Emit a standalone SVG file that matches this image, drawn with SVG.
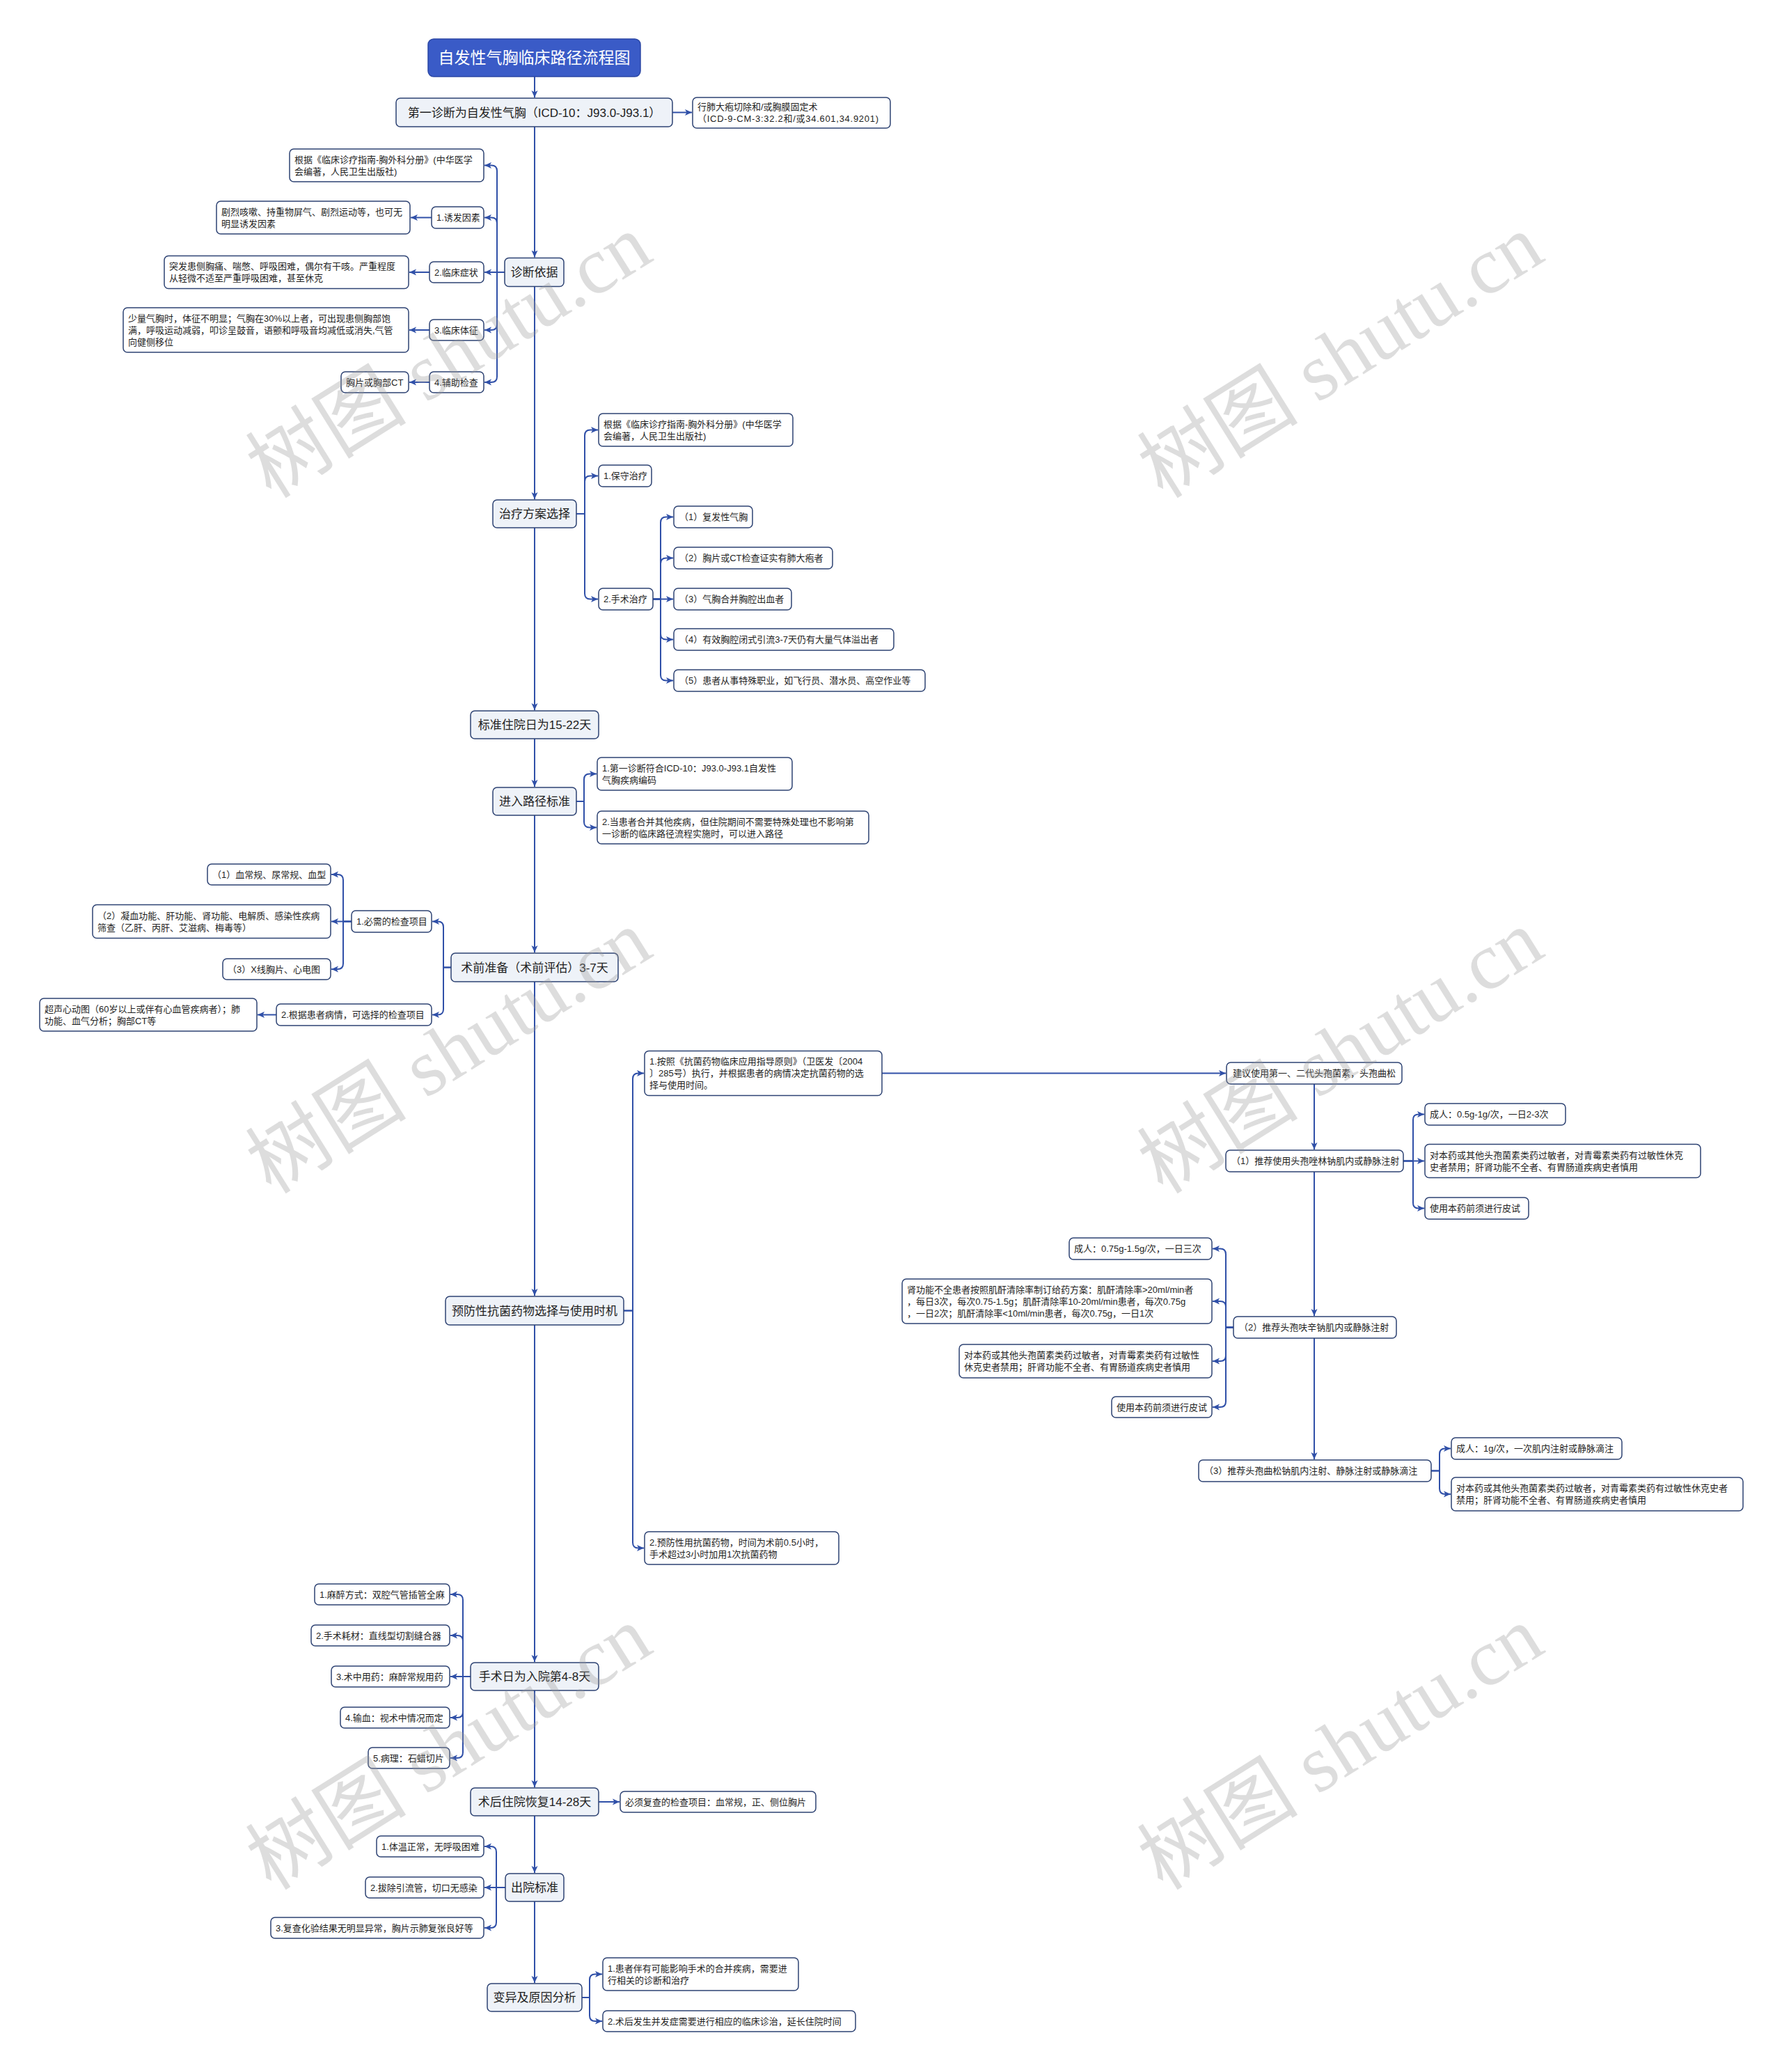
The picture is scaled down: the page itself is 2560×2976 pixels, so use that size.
<svg xmlns="http://www.w3.org/2000/svg" width="2560" height="2976" viewBox="0 0 2560 2976">
<defs>
<style>
.mn{fill:#eef2f8;stroke:#2e4373;stroke-width:1.5}
.cn{fill:#ffffff;stroke:#2e4373;stroke-width:1.5}
.tt{fill:#3a5bc7;stroke:#2b47a5;stroke-width:1.5}
text{font-family:"Liberation Sans","Noto Sans CJK SC",sans-serif;fill:#1e1e1e}
.tw{font-size:23px;fill:#ffffff;text-anchor:middle}
.ml{font-size:17px;text-anchor:middle}
.cl{font-size:13px}
.ln{fill:none;stroke:#3050a8;stroke-width:2;marker-end:url(#ah)}
.wm{font-family:"Liberation Serif","Noto Sans CJK SC",serif;font-size:116px;fill:#9a9a9a;opacity:0.33;text-anchor:middle;dominant-baseline:central}
</style>
<marker id="ah" markerUnits="userSpaceOnUse" markerWidth="10" markerHeight="10" viewBox="0 0 10 10" refX="10" refY="5" orient="auto">
<path d="M0,0.5 L10,5 L0,9.5 L2.5,5 z" fill="#3050a8"/>
</marker>
</defs>
<rect width="2560" height="2976" fill="#ffffff"/>

<g id="connectors">
<path class="ln" d="M768 110 V140"/>
<path class="ln" d="M966 161.5 H994"/>
<path class="ln" d="M768 182 V369.5"/>
<path class="ln" d="M768 411.5 V717"/>
<path class="ln" d="M768 758 V1020"/>
<path class="ln" d="M768 1061 V1130"/>
<path class="ln" d="M768 1171 V1368"/>
<path class="ln" d="M768 1410 V1861"/>
<path class="ln" d="M768 1903 V2387"/>
<path class="ln" d="M768 2428 V2567"/>
<path class="ln" d="M768 2608 V2690"/>
<path class="ln" d="M768 2731 V2848"/>

<path class="ln" d="M725 391 H714 V245.5 Q714 237.5 706 237.5 H696"/>
<path class="ln" d="M725 391 H714 V320.5 Q714 312.5 706 312.5 H696"/>
<path class="ln" d="M725 391 H696"/>
<path class="ln" d="M725 391 H714 V466 Q714 474 706 474 H696"/>
<path class="ln" d="M725 391 H714 V541 Q714 549 706 549 H696"/>
<path class="ln" d="M620 312.5 H590"/>
<path class="ln" d="M617 391 H588"/>
<path class="ln" d="M617 474 H588"/>
<path class="ln" d="M617 549 H588"/>

<path class="ln" d="M828 738 H840 V625.5 Q840 617.5 848 617.5 H859"/>
<path class="ln" d="M828 738 H840 V691.5 Q840 683.5 848 683.5 H859"/>
<path class="ln" d="M828 738 H840 V852.5 Q840 860.5 848 860.5 H859"/>
<path class="ln" d="M938 860.5 H949 V750.5 Q949 742.5 957 742.5 H967"/>
<path class="ln" d="M938 860.5 H949 V809.5 Q949 801.5 957 801.5 H967"/>
<path class="ln" d="M938 860.5 H967"/>
<path class="ln" d="M938 860.5 H949 V910.5 Q949 918.5 957 918.5 H967"/>
<path class="ln" d="M938 860.5 H949 V969.5 Q949 977.5 957 977.5 H967"/>

<path class="ln" d="M828 1151 H839 V1119.5 Q839 1111.5 847 1111.5 H857"/>
<path class="ln" d="M828 1151 H839 V1180.5 Q839 1188.5 847 1188.5 H857"/>

<path class="ln" d="M648 1389.5 H637 V1331.5 Q637 1323.5 629 1323.5 H621"/>
<path class="ln" d="M648 1389.5 H637 V1449.5 Q637 1457.5 629 1457.5 H621"/>
<path class="ln" d="M505 1323.5 H493 V1264 Q493 1256 485 1256 H476"/>
<path class="ln" d="M505 1323.5 H476"/>
<path class="ln" d="M505 1323.5 H493 V1384 Q493 1392 485 1392 H476"/>
<path class="ln" d="M397 1457.5 H370"/>

<path class="ln" d="M896 1882.5 H909 V1549.5 Q909 1541.5 917 1541.5 H925"/>
<path class="ln" d="M896 1882.5 H909 V2215.5 Q909 2223.5 917 2223.5 H925"/>
<path class="ln" d="M1267 1541.5 H1761"/>
<path class="ln" d="M1888 1557 V1651"/>
<path class="ln" d="M2016 1667.5 H2030 V1608.5 Q2030 1600.5 2038 1600.5 H2046"/>
<path class="ln" d="M2016 1667.5 H2046"/>
<path class="ln" d="M2016 1667.5 H2030 V1727.5 Q2030 1735.5 2038 1735.5 H2046"/>
<path class="ln" d="M1888 1683 V1890"/>
<path class="ln" d="M1772 1906.5 H1761 V1801.5 Q1761 1793.5 1753 1793.5 H1742"/>
<path class="ln" d="M1772 1906.5 H1761 V1877 Q1761 1869 1753 1869 H1742"/>
<path class="ln" d="M1772 1906.5 H1761 V1947 Q1761 1955 1753 1955 H1742"/>
<path class="ln" d="M1772 1906.5 H1761 V2013 Q1761 2021 1753 2021 H1742"/>
<path class="ln" d="M1888 1922 V2096"/>
<path class="ln" d="M2056 2112.5 H2068 V2088.5 Q2068 2080.5 2076 2080.5 H2084"/>
<path class="ln" d="M2056 2112.5 H2068 V2138 Q2068 2146 2076 2146 H2084"/>

<path class="ln" d="M676 2408 H665 V2298 Q665 2290 657 2290 H647"/>
<path class="ln" d="M676 2408 H665 V2357 Q665 2349 657 2349 H647"/>
<path class="ln" d="M676 2408 H647"/>
<path class="ln" d="M676 2408 H665 V2459 Q665 2467 657 2467 H647"/>
<path class="ln" d="M676 2408 H665 V2517 Q665 2525 657 2525 H647"/>
<path class="ln" d="M860 2588 H890"/>
<path class="ln" d="M726 2711 H713 V2660 Q713 2652 705 2652 H696"/>
<path class="ln" d="M726 2711 H696"/>
<path class="ln" d="M726 2711 H713 V2761 Q713 2769 705 2769 H696"/>
<path class="ln" d="M836 2869 H847 V2843.5 Q847 2835.5 855 2835.5 H865"/>
<path class="ln" d="M836 2869 H847 V2895 Q847 2903 855 2903 H865"/>
</g>

<g id="n-title"><rect class="tt" x="615" y="56" width="305" height="54" rx="8"/><text class="tw" x="767.5" y="91">自发性气胸临床路径流程图</text></g>
<g id="n1"><rect class="mn" x="569" y="141" width="397" height="41" rx="6"/><text class="ml" x="767.5" y="167.5">第一诊断为自发性气胸（ICD-10：J93.0-J93.1）</text></g>
<g id="n1a"><rect class="cn" x="995" y="140" width="284" height="44" rx="6"/><text class="cl"><tspan x="1002" y="158">行肺大疱切除和/或胸膜固定术</tspan><tspan x="1002" y="175" textLength="260" lengthAdjust="spacing">（ICD-9-CM-3:32.2和/或34.601,34.9201)</tspan></text></g>

<g id="n2"><rect class="mn" x="725" y="370.5" width="85" height="41" rx="6"/><text class="ml" x="767.5" y="397">诊断依据</text></g>
<g id="n2a"><rect class="cn" x="416" y="214" width="279" height="47" rx="6"/><text class="cl"><tspan x="423" y="233.5">根据《临床诊疗指南-胸外科分册》(中华医学</tspan><tspan x="423" y="250.5">会编著，人民卫生出版社)</tspan></text></g>
<g id="n2b"><rect class="cn" x="620" y="297" width="75" height="31" rx="6"/><text class="cl" x="627" y="317">1.诱发因素</text></g>
<g id="n2b1"><rect class="cn" x="311" y="289" width="278" height="47" rx="6"/><text class="cl"><tspan x="318" y="308.5">剧烈咳嗽、持重物屏气、剧烈运动等，也可无</tspan><tspan x="318" y="325.5">明显诱发因素</tspan></text></g>
<g id="n2c"><rect class="cn" x="617" y="376" width="78" height="30" rx="6"/><text class="cl" x="624" y="395.5">2.临床症状</text></g>
<g id="n2c1"><rect class="cn" x="236" y="367.5" width="351" height="47" rx="6"/><text class="cl"><tspan x="243" y="387">突发患侧胸痛、喘憋、呼吸困难，偶尔有干咳。严重程度</tspan><tspan x="243" y="404">从轻微不适至严重呼吸困难，甚至休克</tspan></text></g>
<g id="n2d"><rect class="cn" x="617" y="459" width="78" height="30" rx="6"/><text class="cl" x="624" y="478.5">3.临床体征</text></g>
<g id="n2d1"><rect class="cn" x="177" y="442" width="410" height="64" rx="6"/><text class="cl"><tspan x="184" y="461.5">少量气胸时，体征不明显；气胸在30%以上者，可出现患侧胸部饱</tspan><tspan x="184" y="478.5">满，呼吸运动减弱，叩诊呈鼓音，语颤和呼吸音均减低或消失,气管</tspan><tspan x="184" y="495.5">向健侧移位</tspan></text></g>
<g id="n2e"><rect class="cn" x="617" y="534" width="78" height="30" rx="6"/><text class="cl" x="624" y="553.5">4.辅助检查</text></g>
<g id="n2e1"><rect class="cn" x="490" y="534" width="97" height="30" rx="6"/><text class="cl" x="497" y="553.5">胸片或胸部CT</text></g>

<g id="n3"><rect class="mn" x="708" y="718" width="120" height="40" rx="6"/><text class="ml" x="768" y="744">治疗方案选择</text></g>
<g id="n3a"><rect class="cn" x="860" y="594" width="279" height="47" rx="6"/><text class="cl"><tspan x="867" y="613.5">根据《临床诊疗指南-胸外科分册》(中华医学</tspan><tspan x="867" y="630.5">会编著，人民卫生出版社)</tspan></text></g>
<g id="n3b"><rect class="cn" x="860" y="668" width="76" height="31" rx="6"/><text class="cl" x="867" y="688">1.保守治疗</text></g>
<g id="n3c"><rect class="cn" x="860" y="845" width="78" height="31" rx="6"/><text class="cl" x="867" y="865">2.手术治疗</text></g>
<g id="n3c1"><rect class="cn" x="968" y="727" width="113" height="31" rx="6"/><text class="cl" x="976" y="747">（1）复发性气胸</text></g>
<g id="n3c2"><rect class="cn" x="968" y="786" width="228" height="31" rx="6"/><text class="cl" x="976" y="806">（2）胸片或CT检查证实有肺大疱者</text></g>
<g id="n3c3"><rect class="cn" x="968" y="845" width="169" height="31" rx="6"/><text class="cl" x="976" y="865">（3）气胸合并胸腔出血者</text></g>
<g id="n3c4"><rect class="cn" x="968" y="903" width="316" height="31" rx="6"/><text class="cl" x="976" y="923">（4）有效胸腔闭式引流3-7天仍有大量气体溢出者</text></g>
<g id="n3c5"><rect class="cn" x="968" y="962" width="361" height="31" rx="6"/><text class="cl" x="976" y="982">（5）患者从事特殊职业，如飞行员、潜水员、高空作业等</text></g>

<g id="n4"><rect class="mn" x="676" y="1021" width="184" height="40" rx="6"/><text class="ml" x="768" y="1047">标准住院日为15-22天</text></g>
<g id="n5"><rect class="mn" x="708" y="1131" width="120" height="40" rx="6"/><text class="ml" x="768" y="1157">进入路径标准</text></g>
<g id="n5a"><rect class="cn" x="858" y="1088" width="280" height="47" rx="6"/><text class="cl"><tspan x="865" y="1107.5">1.第一诊断符合ICD-10：J93.0-J93.1自发性</tspan><tspan x="865" y="1124.5">气胸疾病编码</tspan></text></g>
<g id="n5b"><rect class="cn" x="858" y="1165" width="390" height="47" rx="6"/><text class="cl"><tspan x="865" y="1184.5">2.当患者合并其他疾病，但住院期间不需要特殊处理也不影响第</tspan><tspan x="865" y="1201.5">一诊断的临床路径流程实施时，可以进入路径</tspan></text></g>

<g id="n6"><rect class="mn" x="648" y="1369" width="240" height="41" rx="6"/><text class="ml" x="768" y="1395.5">术前准备（术前评估）3-7天</text></g>
<g id="n6a"><rect class="cn" x="505" y="1308" width="115" height="31" rx="6"/><text class="cl" x="512" y="1328">1.必需的检查项目</text></g>
<g id="n6a1"><rect class="cn" x="298" y="1241" width="177" height="30" rx="6"/><text class="cl" x="305" y="1260.5">（1）血常规、尿常规、血型</text></g>
<g id="n6a2"><rect class="cn" x="133" y="1299.5" width="342" height="48" rx="6"/><text class="cl"><tspan x="140" y="1319.5">（2）凝血功能、肝功能、肾功能、电解质、感染性疾病</tspan><tspan x="140" y="1336.5">筛查（乙肝、丙肝、艾滋病、梅毒等）</tspan></text></g>
<g id="n6a3"><rect class="cn" x="320" y="1377" width="155" height="30" rx="6"/><text class="cl" x="327" y="1396.5">（3）X线胸片、心电图</text></g>
<g id="n6b"><rect class="cn" x="397" y="1442" width="223" height="31" rx="6"/><text class="cl" x="404" y="1462">2.根据患者病情，可选择的检查项目</text></g>
<g id="n6b1"><rect class="cn" x="57" y="1434" width="312" height="47" rx="6"/><text class="cl"><tspan x="64" y="1453.5">超声心动图（60岁以上或伴有心血管疾病者）；肺</tspan><tspan x="64" y="1470.5">功能、血气分析；胸部CT等</tspan></text></g>

<g id="n7"><rect class="mn" x="640" y="1862" width="256" height="41" rx="6"/><text class="ml" x="768" y="1888.5">预防性抗菌药物选择与使用时机</text></g>
<g id="n7a"><rect class="cn" x="926" y="1509.5" width="341" height="64" rx="6"/><text class="cl"><tspan x="933" y="1529">1.按照《抗菌药物临床应用指导原则》（卫医发〔2004</tspan><tspan x="933" y="1546">〕285号）执行，并根据患者的病情决定抗菌药物的选</tspan><tspan x="933" y="1563">择与使用时间。</tspan></text></g>
<g id="n7b"><rect class="cn" x="926" y="2200" width="279" height="47" rx="6"/><text class="cl"><tspan x="933" y="2219.5">2.预防性用抗菌药物，时间为术前0.5小时，</tspan><tspan x="933" y="2236.5">手术超过3小时加用1次抗菌药物</tspan></text></g>
<g id="n8"><rect class="cn" x="1762" y="1526" width="252" height="31" rx="6"/><text class="cl" x="1771" y="1546">建议使用第一、二代头孢菌素，头孢曲松</text></g>
<g id="n9"><rect class="cn" x="1761" y="1652" width="255" height="31" rx="6"/><text class="cl" x="1769" y="1672">（1）推荐使用头孢唑林钠肌内或静脉注射</text></g>
<g id="n9a"><rect class="cn" x="2047" y="1585" width="202" height="31" rx="6"/><text class="cl" x="2054" y="1605">成人：0.5g-1g/次，一日2-3次</text></g>
<g id="n9b"><rect class="cn" x="2047" y="1643.5" width="396" height="48" rx="6"/><text class="cl"><tspan x="2054" y="1663.5">对本药或其他头孢菌素类药过敏者，对青霉素类药有过敏性休克</tspan><tspan x="2054" y="1680.5">史者禁用；肝肾功能不全者、有胃肠道疾病史者慎用</tspan></text></g>
<g id="n9c"><rect class="cn" x="2047" y="1720" width="149" height="31" rx="6"/><text class="cl" x="2054" y="1740">使用本药前须进行皮试</text></g>
<g id="n10"><rect class="cn" x="1772" y="1891" width="234" height="31" rx="6"/><text class="cl" x="1780" y="1911">（2）推荐头孢呋辛钠肌内或静脉注射</text></g>
<g id="n10a"><rect class="cn" x="1536" y="1778" width="205" height="31" rx="6"/><text class="cl" x="1543" y="1798">成人：0.75g-1.5g/次，一日三次</text></g>
<g id="n10b"><rect class="cn" x="1296" y="1837" width="445" height="64" rx="6"/><text class="cl"><tspan x="1303" y="1856.5">肾功能不全患者按照肌酐清除率制订给药方案：肌酐清除率&gt;20ml/min者</tspan><tspan x="1303" y="1873.5">，每日3次，每次0.75-1.5g；肌酐清除率10-20ml/min患者，每次0.75g</tspan><tspan x="1303" y="1890.5">，一日2次；肌酐清除率&lt;10ml/min患者，每次0.75g，一日1次</tspan></text></g>
<g id="n10c"><rect class="cn" x="1378" y="1931" width="363" height="48" rx="6"/><text class="cl"><tspan x="1385" y="1951">对本药或其他头孢菌素类药过敏者，对青霉素类药有过敏性</tspan><tspan x="1385" y="1968">休克史者禁用；肝肾功能不全者、有胃肠道疾病史者慎用</tspan></text></g>
<g id="n10d"><rect class="cn" x="1597" y="2006" width="144" height="30" rx="6"/><text class="cl" x="1604" y="2025.5">使用本药前须进行皮试</text></g>
<g id="n11"><rect class="cn" x="1722" y="2097" width="334" height="31" rx="6"/><text class="cl" x="1730" y="2117">（3）推荐头孢曲松钠肌内注射、静脉注射或静脉滴注</text></g>
<g id="n11a"><rect class="cn" x="2085" y="2065" width="245" height="31" rx="6"/><text class="cl" x="2092" y="2085">成人：1g/次，一次肌内注射或静脉滴注</text></g>
<g id="n11b"><rect class="cn" x="2085" y="2122" width="419" height="48" rx="6"/><text class="cl"><tspan x="2092" y="2142">对本药或其他头孢菌素类药过敏者，对青霉素类药有过敏性休克史者</tspan><tspan x="2092" y="2159">禁用；肝肾功能不全者、有胃肠道疾病史者慎用</tspan></text></g>

<g id="n12"><rect class="mn" x="676" y="2388" width="184" height="40" rx="6"/><text class="ml" x="768" y="2414">手术日为入院第4-8天</text></g>
<g id="n12a"><rect class="cn" x="452" y="2275" width="194" height="30" rx="6"/><text class="cl" x="459" y="2294.5">1.麻醉方式：双腔气管插管全麻</text></g>
<g id="n12b"><rect class="cn" x="447" y="2334" width="199" height="30" rx="6"/><text class="cl" x="454" y="2353.5">2.手术耗材：直线型切割缝合器</text></g>
<g id="n12c"><rect class="cn" x="476" y="2393" width="170" height="30" rx="6"/><text class="cl" x="483" y="2412.5">3.术中用药：麻醉常规用药</text></g>
<g id="n12d"><rect class="cn" x="489" y="2452" width="157" height="30" rx="6"/><text class="cl" x="496" y="2471.5">4.输血：视术中情况而定</text></g>
<g id="n12e"><rect class="cn" x="529" y="2510" width="117" height="30" rx="6"/><text class="cl" x="536" y="2529.5">5.病理：石蜡切片</text></g>
<g id="n13"><rect class="mn" x="676" y="2568" width="184" height="40" rx="6"/><text class="ml" x="768" y="2594">术后住院恢复14-28天</text></g>
<g id="n13a"><rect class="cn" x="891" y="2573" width="281" height="30" rx="6"/><text class="cl" x="898" y="2592.5">必须复查的检查项目：血常规，正、侧位胸片</text></g>
<g id="n14"><rect class="mn" x="726" y="2691" width="84" height="40" rx="6"/><text class="ml" x="768" y="2717">出院标准</text></g>
<g id="n14a"><rect class="cn" x="541" y="2637" width="154" height="30" rx="6"/><text class="cl" x="548" y="2656.5">1.体温正常，无呼吸困难</text></g>
<g id="n14b"><rect class="cn" x="525" y="2696" width="170" height="30" rx="6"/><text class="cl" x="532" y="2715.5">2.拔除引流管，切口无感染</text></g>
<g id="n14c"><rect class="cn" x="389" y="2754" width="306" height="30" rx="6"/><text class="cl" x="396" y="2773.5">3.复查化验结果无明显异常，胸片示肺复张良好等</text></g>
<g id="n15"><rect class="mn" x="700" y="2849" width="136" height="40" rx="6"/><text class="ml" x="768" y="2875">变异及原因分析</text></g>
<g id="n15a"><rect class="cn" x="866" y="2812" width="281" height="47" rx="6"/><text class="cl"><tspan x="873" y="2831.5">1.患者伴有可能影响手术的合并疾病，需要进</tspan><tspan x="873" y="2848.5">行相关的诊断和治疗</tspan></text></g>
<g id="n15b"><rect class="cn" x="866" y="2888" width="363" height="30" rx="6"/><text class="cl" x="873" y="2907.5">2.术后发生并发症需要进行相应的临床诊治，延长住院时间</text></g>

<g id="watermark">
<text class="wm" transform="translate(645 512) rotate(-32)">树图 shutu.cn</text>
<text class="wm" transform="translate(1926 512) rotate(-32)">树图 shutu.cn</text>
<text class="wm" transform="translate(645 1511) rotate(-32)">树图 shutu.cn</text>
<text class="wm" transform="translate(1926 1511) rotate(-32)">树图 shutu.cn</text>
<text class="wm" transform="translate(645 2511) rotate(-32)">树图 shutu.cn</text>
<text class="wm" transform="translate(1926 2511) rotate(-32)">树图 shutu.cn</text>
</g>
</svg>
